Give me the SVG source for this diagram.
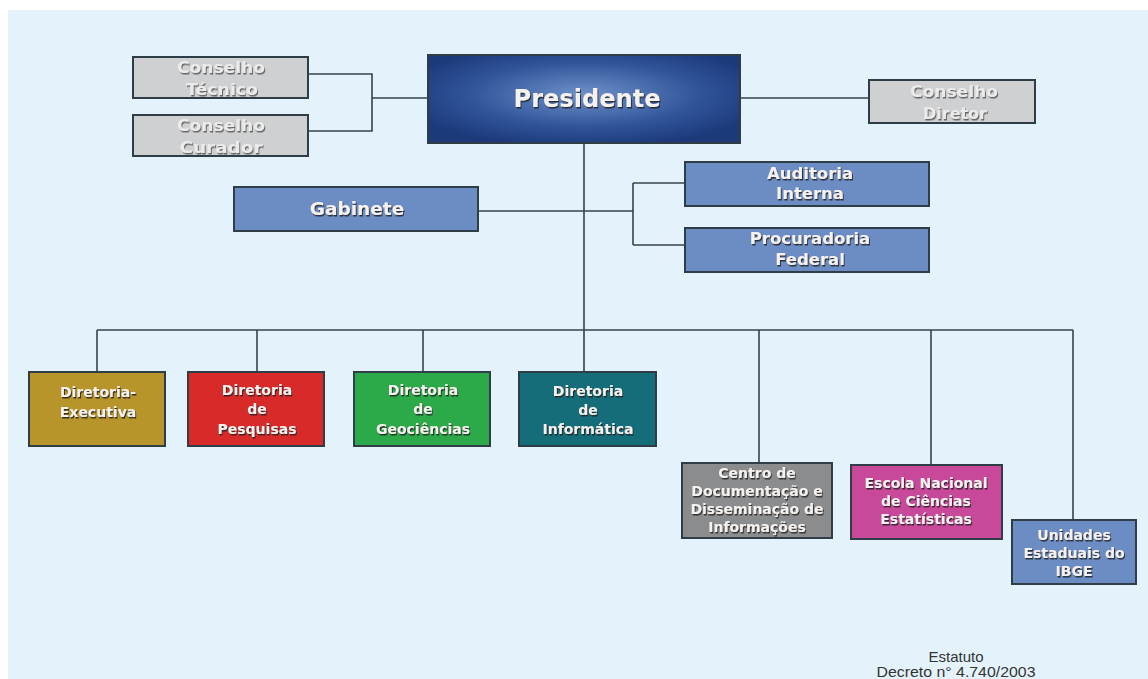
<svg xmlns="http://www.w3.org/2000/svg" width="1148" height="679" viewBox="0 0 1148 679">
<defs>
<radialGradient id="presG" cx="0.5" cy="0.45" r="0.6">
<stop offset="0" stop-color="#6f92c9"/>
<stop offset="0.6" stop-color="#31559a"/>
<stop offset="1" stop-color="#1c397a"/>
</radialGradient>
<filter id="sh" x="-10%" y="-20%" width="130%" height="150%">
<feDropShadow dx="1" dy="1.5" stdDeviation="0.6" flood-color="#1a1a1a" flood-opacity="0.85"/>
</filter>
<filter id="shg" x="-10%" y="-20%" width="130%" height="150%">
<feDropShadow dx="1" dy="1.5" stdDeviation="0.6" flood-color="#5a5a5a" flood-opacity="0.9"/>
</filter>
</defs>
<style>
.box{stroke:#2e3d46;stroke-width:2}
.gray{fill:#cfd0d2}
.blue{fill:#6c8cc4}
.t{font-family:"DejaVu Sans",Verdana,sans-serif;font-weight:bold;fill:#f5f1ee;text-anchor:middle;filter:url(#sh)}
.tg{font-family:"DejaVu Sans",Verdana,sans-serif;font-weight:bold;fill:#ebebeb;text-anchor:middle;font-size:15px;filter:url(#shg)}
.m{font-size:16.5px}
.s{font-size:14px}
.c{fill:none;stroke:#34444d;stroke-width:1.6}
.foot{font-family:"Liberation Sans",Arial,sans-serif;font-size:15px;fill:#333;text-anchor:middle}
</style>
<rect x="0" y="0" width="1148" height="679" fill="#ffffff"/>
<rect x="8" y="10" width="1140" height="669" fill="#e4f3fb"/>

<g id="connectors">
<path class="c" d="M308 74 H372 V131 H308 M372 98 H428"/>
<path class="c" d="M741 98 H869"/>
<path class="c" d="M584 143 V330"/>
<path class="c" d="M478 211 H633 M633 183 V245 M633 183 H685 M633 245 H685"/>
<path class="c" d="M97 330 H1073 M97 330 V372 M257 330 V372 M423 330 V372 M584 330 V372 M759 330 V463 M931 330 V465 M1073 330 V520"/>
</g>

<g id="conselho-tecnico">
<rect class="box gray" x="133" y="57" width="175" height="41"/>
<text class="tg" x="221" y="73" textLength="88" lengthAdjust="spacingAndGlyphs">Conselho</text>
<text class="tg" x="222" y="95" textLength="72" lengthAdjust="spacingAndGlyphs">Técnico</text>
</g>
<g id="conselho-curador">
<rect class="box gray" x="133" y="115" width="175" height="41"/>
<text class="tg" x="221" y="131" textLength="88" lengthAdjust="spacingAndGlyphs">Conselho</text>
<text class="tg" x="221" y="153" textLength="83" lengthAdjust="spacingAndGlyphs">Curador</text>
</g>
<g id="presidente">
<rect class="box" x="428" y="55" width="312" height="88" fill="url(#presG)"/>
<text class="t" x="587" y="107" font-size="24" textLength="147" lengthAdjust="spacingAndGlyphs">Presidente</text>
</g>
<g id="conselho-diretor">
<rect class="box gray" x="869" y="80" width="166" height="43"/>
<text class="tg" x="954" y="97" textLength="88" lengthAdjust="spacingAndGlyphs">Conselho</text>
<text class="tg" x="955" y="119" textLength="64" lengthAdjust="spacingAndGlyphs">Diretor</text>
</g>
<g id="gabinete">
<rect class="box blue" x="234" y="187" width="244" height="44"/>
<text class="t" x="357" y="215" font-size="18.5">Gabinete</text>
</g>
<g id="auditoria-interna">
<rect class="box blue" x="685" y="162" width="244" height="44"/>
<text class="t m" x="810" y="179">Auditoria</text>
<text class="t m" x="810" y="199">Interna</text>
</g>
<g id="procuradoria-federal">
<rect class="box blue" x="685" y="228" width="244" height="44"/>
<text class="t m" x="810" y="244">Procuradoria</text>
<text class="t m" x="810" y="265">Federal</text>
</g>
<g id="diretoria-executiva">
<rect class="box" x="29" y="372" width="136" height="74" fill="#b8952b"/>
<text class="t s" x="98" y="397">Diretoria-</text>
<text class="t s" x="98" y="417">Executiva</text>
</g>
<g id="diretoria-pesquisas">
<rect class="box" x="188" y="372" width="136" height="74" fill="#d92a2a"/>
<text class="t s" x="257" y="395">Diretoria</text>
<text class="t s" x="257" y="414">de</text>
<text class="t s" x="257" y="434">Pesquisas</text>
</g>
<g id="diretoria-geociencias">
<rect class="box" x="354" y="372" width="136" height="74" fill="#2caa4a"/>
<text class="t s" x="423" y="395">Diretoria</text>
<text class="t s" x="423" y="414">de</text>
<text class="t s" x="423" y="434">Geociências</text>
</g>
<g id="diretoria-informatica">
<rect class="box" x="519" y="372" width="137" height="74" fill="#156d7a"/>
<text class="t s" x="588" y="396">Diretoria</text>
<text class="t s" x="588" y="415">de</text>
<text class="t s" x="588" y="434">Informática</text>
</g>
<g id="centro-documentacao">
<rect class="box" x="682" y="463" width="150" height="75" fill="#8a8c8e"/>
<text class="t s" x="757" y="478">Centro de</text>
<text class="t s" x="757" y="496">Documentação e</text>
<text class="t s" x="757" y="514">Disseminação de</text>
<text class="t s" x="757" y="532">Informações</text>
</g>
<g id="escola-nacional">
<rect class="box" x="851" y="465" width="151" height="74" fill="#c8499a"/>
<text class="t s" x="926" y="488">Escola Nacional</text>
<text class="t s" x="926" y="506">de Ciências</text>
<text class="t s" x="926" y="524">Estatísticas</text>
</g>
<g id="unidades-estaduais">
<rect class="box" x="1012" y="520" width="124" height="64" fill="#6c8cc4"/>
<text class="t s" x="1074" y="540">Unidades</text>
<text class="t s" x="1074" y="558">Estaduais do</text>
<text class="t s" x="1074" y="576">IBGE</text>
</g>
<g id="footer">
<text class="foot" x="956" y="662">Estatuto</text>
<text class="foot" x="956" y="677" textLength="159" lengthAdjust="spacingAndGlyphs">Decreto n° 4.740/2003</text>
</g>
</svg>
